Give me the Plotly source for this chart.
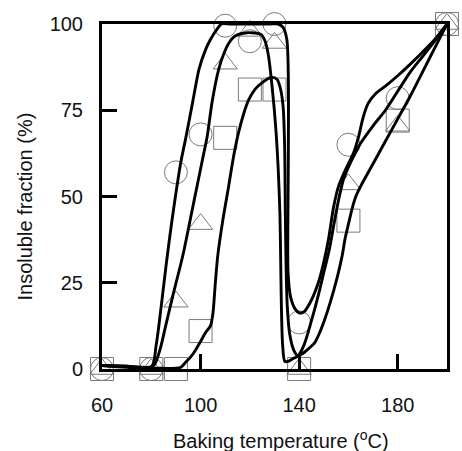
import plotly.graph_objects as go

# Measured insoluble fractions at each baking temperature
temps = [60, 80, 90, 100, 110, 120, 130, 140, 160, 180, 200]
circle_vals = [0, 0, 57, 68, 99.5, 95, 100, 13.5, 65, 78.5, 100]
triangle_vals = [0, 0, 19.5, 42, 88.5, 98, 94.5, 0, 53.5, 70.5, 100]
square_vals = [0, 0, 0, 11, 67, 81, 81, 0, 43, 72, 100]

# Hand-fitted guide curves through each series
circle_fit_x = [60, 70, 80, 82, 84, 86, 88, 90, 92, 94, 96.7, 99.4, 102, 104, 106.7,
                108.5, 112, 120, 128, 131.5, 133.5, 135, 135.6, 135.6, 135.4, 135.5,
                136.5, 138.3, 140, 142, 145, 148, 150, 152, 154, 156, 158, 160, 162,
                164, 166, 168, 171, 175, 180, 185, 190, 195, 200]
circle_fit_y = [1, 0.8, 0.6, 7, 18, 30, 41, 51, 60, 67, 77, 87, 92.5, 95.5, 98.5,
                100, 100, 100, 100, 100, 99, 95.5, 85, 60, 40, 28,
                21, 17.5, 16.3, 16.6, 20, 25.5, 31, 38, 47, 53, 56.5, 59.5, 62.5,
                67, 73, 77, 79.8, 82, 85, 88.3, 91.8, 95.5, 100]

triangle_fit_x = [60, 70, 80, 81.5, 83.5, 86, 89, 92, 93.3, 96, 99, 101, 102.7, 104.7,
                  107.4, 109.5, 111.5, 114, 118, 122, 124.5, 126.2, 127.5, 129, 130.5,
                  131.5, 132.2, 132.5, 132.8, 133.3, 134.2, 135.5, 137.5, 139.5, 142,
                  145, 148, 150, 152.2, 154, 156, 158, 160, 162, 165, 170, 175, 180,
                  185, 190, 195, 200]
triangle_fit_y = [1, 0.8, 0.6, 1.5, 5.5, 13, 22, 30.5, 34.5, 44, 54.5, 61.5, 67.5, 77.5,
                  87, 91.5, 94.5, 96.5, 97.4, 97.4, 97, 95, 91, 82, 70,
                  58, 45, 32, 18, 7, 2.2, 2.2, 3, 3.7, 7,
                  14, 22, 28, 34.5, 41.5, 49, 55, 58.5, 61.5, 65.5, 70.5, 75, 80.5,
                  86, 90.5, 95, 100]

square_fit_x = [60, 70, 80, 85, 90, 92, 94, 96, 98, 100, 102, 104, 105, 106, 107, 109,
                111.4, 113.5, 115.4, 117.5, 119.5, 122, 125, 128.5, 131, 132.5, 133.5,
                134.1, 134.4, 134.7, 135.2, 136.2, 137.8, 139.5, 141.5, 144, 146.2,
                148, 150.2, 152.5, 155.6, 157.5, 158.7, 160, 161.5, 163, 165, 170,
                175, 180, 185, 190, 195, 200]
square_fit_y = [1, 0.5, 0.3, 0.2, 0.2, 0.5, 2, 3.5, 5.5, 8, 10.5, 12.5, 16, 25, 33, 43,
                53, 62, 68.5, 74, 78, 81, 83, 84.5, 84, 81, 76,
                65, 45, 30, 18, 10, 5.5, 3.8, 4.5, 6, 7.5,
                10, 14, 19, 27, 33, 38, 42, 46.5, 50, 53, 59.5,
                66, 72.5, 79, 86, 93, 100]

x_ticks = [60, 100, 140, 180]
y_ticks = [0, 25, 50, 75, 100]

MARKER_GRAY = "#7a7a7a"
FONT = dict(family="Liberation Sans, Arial, sans-serif", size=20, color="#111")

fig = go.Figure()

for vals, sym, size in [
    (circle_vals, "circle-open", 23),
    (triangle_vals, "triangle-up-open", 21),
    (square_vals, "square-open", 23),
]:
    fig.add_trace(go.Scatter(
        x=temps, y=vals, mode="markers", cliponaxis=False,
        marker=dict(symbol=sym, size=size, color=MARKER_GRAY,
                    line=dict(width=1, color=MARKER_GRAY)),
        showlegend=False, hoverinfo="skip",
    ))

for fx, fy in [(circle_fit_x, circle_fit_y),
               (triangle_fit_x, triangle_fit_y),
               (square_fit_x, square_fit_y)]:
    fig.add_trace(go.Scatter(
        x=fx, y=fy, mode="lines", cliponaxis=False,
        line=dict(color="black", width=2.9, shape="spline", smoothing=0.8),
        showlegend=False, hoverinfo="skip",
    ))

axis_common = dict(
    showline=True, linecolor="black", linewidth=3, mirror=True,
    showgrid=False, zeroline=False,
    ticks="inside", ticklen=15, tickwidth=3, tickcolor="black",
    tickfont=FONT,
)

fig.update_xaxes(range=[60, 200], tickvals=x_ticks, ticktext=[str(v) for v in x_ticks],
                 ticklabelstandoff=16, **axis_common)
fig.update_yaxes(range=[0, 100], tickvals=y_ticks, ticktext=[str(v) for v in y_ticks],
                 ticklabelstandoff=12, **axis_common)

fig.add_annotation(
    text="Baking temperature (<sup>o</sup>C)", xref="paper", yref="paper",
    x=0.5, y=0, xanchor="center", yanchor="middle", xshift=6, yshift=-70,
    showarrow=False, font=FONT,
)
fig.add_annotation(
    text="Insoluble fraction (%)", xref="paper", yref="paper",
    x=0, y=0.5, xanchor="center", yanchor="middle", xshift=-78, yshift=-10,
    textangle=-90, showarrow=False, font=FONT,
)

fig.update_layout(
    width=462, height=451,
    margin=dict(l=102, r=12, t=24, b=82),
    paper_bgcolor="white", plot_bgcolor="white",
)

fig.write_html("out.html")
